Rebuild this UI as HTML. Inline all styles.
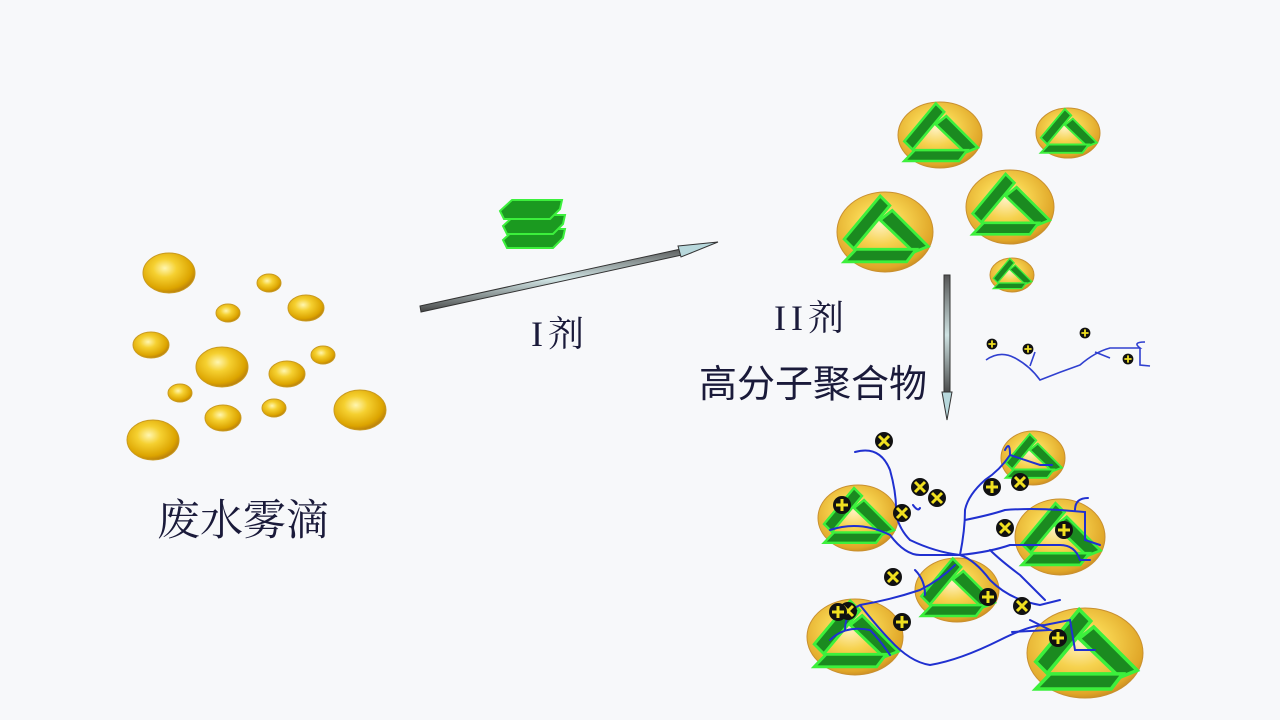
<!DOCTYPE html>
<html><head><meta charset="utf-8">
<style>
html,body{margin:0;padding:0;background:#f7f8fa;}
svg{display:block;}
</style></head>
<body>
<svg width="1280" height="720" viewBox="0 0 1280 720" xmlns="http://www.w3.org/2000/svg">
<defs>
<radialGradient id="gold" cx="0.42" cy="0.38" r="0.65">
<stop offset="0" stop-color="#fff6b0"/>
<stop offset="0.35" stop-color="#f5d030"/>
<stop offset="0.8" stop-color="#dca400"/>
<stop offset="1" stop-color="#b47a10"/>
</radialGradient>
<radialGradient id="gold2" cx="0.45" cy="0.4" r="0.65">
<stop offset="0" stop-color="#fff1c0"/>
<stop offset="0.4" stop-color="#f6d24e"/>
<stop offset="0.85" stop-color="#e0a628"/>
<stop offset="1" stop-color="#c08020"/>
</radialGradient>
<g id="sh">
<polygon points="-0.85,0.15 -0.1,-0.75 0.1,-0.55 -0.65,0.35" fill="#1b8a20" stroke="#3cf03c" stroke-width="0.06"/>
<polygon points="-0.1,-0.25 0.15,-0.45 0.9,0.3 0.6,0.42" fill="#1b8a20" stroke="#3cf03c" stroke-width="0.06"/>
<polygon points="-0.85,0.62 -0.6,0.36 0.65,0.36 0.45,0.62" fill="#1b8a20" stroke="#3cf03c" stroke-width="0.06"/>
</g>
<g id="ch">
<circle r="9" fill="#111"/>
<path d="M-5,-5 L5,5 M5,-5 L-5,5" stroke="#f0e020" stroke-width="3"/>
</g>
<g id="pl">
<circle r="9" fill="#111"/>
<path d="M-6,0 L6,0 M0,-6 L0,6" stroke="#f0e020" stroke-width="3"/>
</g>
<linearGradient id="rod" x1="0" y1="0" x2="0" y2="1">
<stop offset="0" stop-color="#555"/><stop offset="0.5" stop-color="#cfe3e3"/><stop offset="1" stop-color="#444"/>
</linearGradient>
</defs>

<g fill="url(#gold)" stroke="#c99a20" stroke-width="1">
<ellipse cx="169" cy="273" rx="26" ry="20"/>
<ellipse cx="269" cy="283" rx="12" ry="9"/>
<ellipse cx="306" cy="308" rx="18" ry="13"/>
<ellipse cx="228" cy="313" rx="12" ry="9"/>
<ellipse cx="151" cy="345" rx="18" ry="13"/>
<ellipse cx="222" cy="367" rx="26" ry="20"/>
<ellipse cx="323" cy="355" rx="12" ry="9"/>
<ellipse cx="287" cy="374" rx="18" ry="13"/>
<ellipse cx="180" cy="393" rx="12" ry="9"/>
<ellipse cx="223" cy="418" rx="18" ry="13"/>
<ellipse cx="274" cy="408" rx="12" ry="9"/>
<ellipse cx="360" cy="410" rx="26" ry="20"/>
<ellipse cx="153" cy="440" rx="26" ry="20"/>
</g>

<g fill="#1b9a20" stroke="#3cf03c" stroke-width="2">
<polygon points="503,240 515,229 565,229 563,238 553,248 507,248"/>
<polygon points="503,226 515,215 565,215 563,224 553,234 507,234"/>
<polygon points="500,211 512,200 562,200 560,209 550,219 504,219"/>
</g>

<g>
<polygon points="420,306 690,247 691,253 421,312" fill="url(#rod)" stroke="#333" stroke-width="1"/>
<polygon points="678,246 718,242 681,257" fill="#b8d8dc" stroke="#333" stroke-width="1"/>
</g>

<rect x="944" y="275" width="6" height="120" fill="url(#rod)" stroke="#333" stroke-width="1"/>
<polygon points="942,392 952,392 947,420" fill="#b8d8dc" stroke="#333" stroke-width="1"/>

<g font-family="'Liberation Serif','Noto Serif CJK SC',serif" fill="#1a1a3a">
<text x="531" y="346" font-size="36" letter-spacing="5">I剂</text>
<text x="774" y="330" font-size="36" letter-spacing="5">II剂</text>
<text x="699" y="397" font-size="38" font-family="'Liberation Sans','Noto Sans CJK SC',sans-serif">高分子聚合物</text>
<text x="157" y="535" font-size="43">废水雾滴</text>
</g>

<g fill="url(#gold2)" stroke="#c99030" stroke-width="1">
<ellipse cx="940" cy="135" rx="42" ry="33"/>
<ellipse cx="1068" cy="133" rx="32" ry="25"/>
<ellipse cx="885" cy="232" rx="48" ry="40"/>
<ellipse cx="1010" cy="207" rx="44" ry="37"/>
<ellipse cx="1012" cy="275" rx="22" ry="17"/>
</g>
<use href="#sh" transform="translate(940,135) scale(42)"/>
<use href="#sh" transform="translate(1068,133) scale(32)"/>
<use href="#sh" transform="translate(885,232) scale(48)"/>
<use href="#sh" transform="translate(1010,207) scale(44)"/>
<use href="#sh" transform="translate(1012,275) scale(22)"/>

<path d="M986,360 Q1000,350 1015,358 Q1030,366 1040,380 Q1060,372 1080,365 Q1095,352 1110,348 L1140,348 Q1132,342 1145,342 M1140,348 L1140,365 L1150,366 M1030,366 L1035,352 M1095,352 L1110,358" fill="none" stroke="#3040d0" stroke-width="1.6"/>
<g transform="translate(992,344) scale(0.6)"><use href="#pl"/></g>
<g transform="translate(1028,349) scale(0.6)"><use href="#pl"/></g>
<g transform="translate(1085,333) scale(0.6)"><use href="#pl"/></g>
<g transform="translate(1128,359) scale(0.6)"><use href="#pl"/></g>

<g fill="url(#gold2)" stroke="#c99030" stroke-width="1">
<ellipse cx="858" cy="518" rx="40" ry="33"/>
<ellipse cx="1033" cy="458" rx="32" ry="27"/>
<ellipse cx="1060" cy="537" rx="45" ry="38"/>
<ellipse cx="957" cy="590" rx="42" ry="32"/>
<ellipse cx="855" cy="637" rx="48" ry="38"/>
<ellipse cx="1085" cy="653" rx="58" ry="45"/>
</g>
<use href="#sh" transform="translate(858,518) scale(40)"/>
<use href="#sh" transform="translate(1033,458) scale(32)"/>
<use href="#sh" transform="translate(1060,537) scale(45)"/>
<use href="#sh" transform="translate(957,590) scale(42)"/>
<use href="#sh" transform="translate(855,637) scale(48)"/>
<use href="#sh" transform="translate(1085,653) scale(58)"/>

<g fill="none" stroke="#2030d0" stroke-width="2" stroke-linecap="round">
<path d="M855,452 Q880,445 890,470 Q897,495 896,515 Q900,530 910,540 Q935,552 960,555 Q990,552 1010,545 L1060,545 Q1075,545 1080,560 L1090,560"/>
<path d="M830,530 Q860,520 890,535 Q905,555 920,555 L960,555 Q975,560 990,580 Q1010,600 1040,605 L1060,600 M1045,600 L1020,575 Q1000,560 990,550"/>
<path d="M960,555 Q965,530 965,510 Q968,495 985,480 Q1000,470 1010,455 L1040,465 L1052,465 M1010,455 Q1010,440 1005,450"/>
<path d="M965,520 Q990,515 1005,510 Q1030,508 1060,510 L1085,512 L1085,540 L1100,545 M1075,510 Q1075,498 1088,498"/>
<path d="M955,565 Q940,580 920,590 Q890,600 860,605 Q845,612 845,630 M860,605 Q880,630 890,640 Q910,662 930,665 Q960,660 1000,640 Q1030,625 1045,625 L1070,620 L1075,650 L1095,650"/>
<path d="M830,640 Q845,625 870,630 Q880,640 890,655 M1030,620 L1050,630 L1012,632"/>
<path d="M915,570 Q925,580 925,595 M913,505 Q918,512 920,508"/>
</g>

<use href="#ch" x="884" y="441"/>
<use href="#ch" x="920" y="487"/>
<use href="#ch" x="937" y="498"/>
<use href="#ch" x="902" y="513"/>
<use href="#pl" x="842" y="505"/>
<use href="#pl" x="992" y="487"/>
<use href="#ch" x="1020" y="482"/>
<use href="#ch" x="1005" y="528"/>
<use href="#pl" x="1064" y="530"/>
<use href="#ch" x="893" y="577"/>
<use href="#pl" x="988" y="597"/>
<use href="#ch" x="1022" y="606"/>
<use href="#ch" x="848" y="611"/>
<use href="#pl" x="838" y="612"/>
<use href="#pl" x="902" y="622"/>
<use href="#pl" x="1058" y="638"/>
</svg>
</body></html>
